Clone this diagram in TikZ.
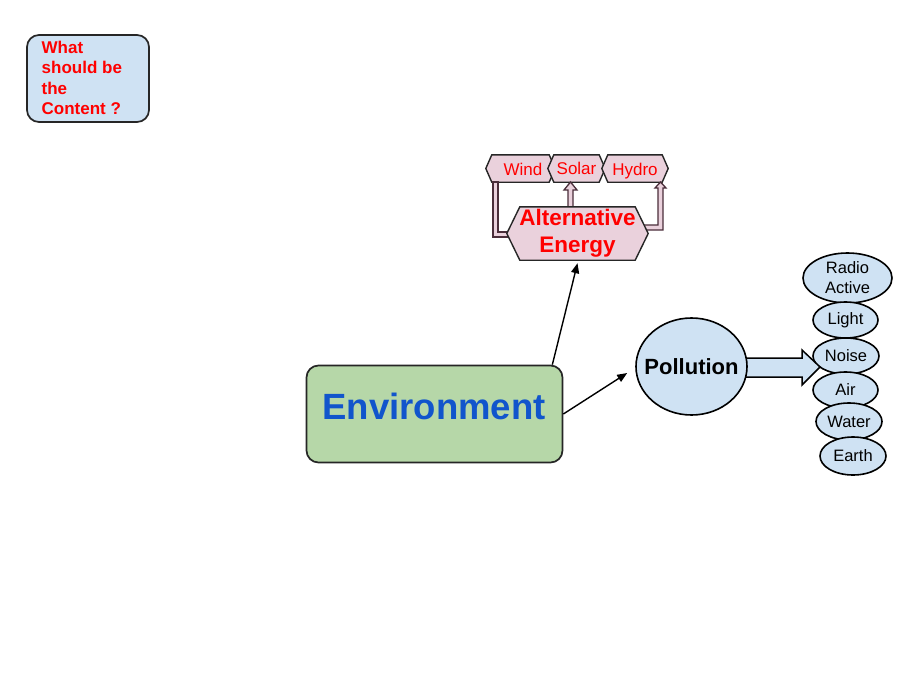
\documentclass[tikz,border=0pt]{standalone}
\usepackage{fontspec}
\setmainfont{Liberation Sans}
\usetikzlibrary{arrows.meta,calc,shapes.geometric}
\definecolor{lblue}{HTML}{CFE2F3}
\definecolor{lgreen}{HTML}{B6D7A8}
\definecolor{lpink}{HTML}{EAD1DC}
\definecolor{envblue}{HTML}{1155CC}
\definecolor{outl}{HTML}{262626}
\definecolor{pinkline}{HTML}{4A2E3A}
\definecolor{txtred}{HTML}{FF0000}
\newcommand\hexshape[3]{%
  \draw[#3] (#1.north west) -- (#1.north east) -- ([xshift=#2]#1.east) --
    (#1.south east) -- (#1.south west) -- ([xshift=-#2]#1.west) -- cycle;}
\begin{document}
\begin{tikzpicture}[x=1pt,y=-1pt,
  rbox/.style={draw=outl, line width=1.7pt, rounded corners=12pt, inner sep=0pt},
  body/.style={inner sep=0pt, draw=none},
  hexstyle/.style={draw=outl, fill=lpink, line width=1.4pt},
  cat/.style={ellipse, draw=black, line width=1.6pt, fill=lblue, inner sep=0pt},
  cattext/.style={align=center, inner sep=0pt, font=\fontsize{16.5}{20}\selectfont},
  toptext/.style={inner sep=0pt, text=txtred, font=\fontsize{17}{20}\selectfont},
  arr/.style={-{Triangle[length=10pt,width=8pt]}, line width=1.4pt},
  blockarrow/.style={draw=pinkline, fill=lpink, line width=1.3pt},
  bluearrow/.style={draw=black, fill=lblue, line width=1.5pt}]
\useasboundingbox[fill=white] (0,0) rectangle (900,680);

% question box
\node[rbox, fill=lblue, minimum width=122pt, minimum height=87pt] (what) at (88,78.5) {};
\node[anchor=west, align=left, inner sep=0pt, text=txtred,
  font=\bfseries\fontsize{17}{20.5}\selectfont] (whattxt) at (41.5,78) {What\\should be\\the\\Content ?};

% environment
\node[rbox, fill=lgreen, minimum width=256pt, minimum height=97pt] (env) at (434.5,414) {};
\node[inner sep=0pt, text=envblue, font=\bfseries\fontsize{36.5}{40}\selectfont] (envtxt) at (434,406) {Environment};

% top shapes
\node[body, minimum width=57pt, minimum height=27pt] (wind) at (520.5,168.5) {};
\node[body, minimum width=45pt, minimum height=27pt] (solar) at (576.5,168.5) {};
\node[body, minimum width=54pt, minimum height=27pt] (hydro) at (635,168.5) {};
\hexshape{wind}{6pt}{hexstyle}
\hexshape{solar}{6pt}{hexstyle}
\hexshape{hydro}{6pt}{hexstyle}
\node[toptext] at ([xshift=2.5pt,yshift=-1pt]wind.center) {Wind};
\node[toptext] at (solar.center) {Solar};
\node[toptext] at ([yshift=-3pt]hydro.center) {Hydro};

% block arrows to the sources
\draw[blockarrow] (568,212) -- (568,190) -- (564,190) -- (570.5,182) -- (577,190) -- (573,190) -- (573,212) -- cycle;
\draw[blockarrow] (515,232) -- (498,232) -- (498,182) -- (493,182) -- (493,237) -- (515,237) -- cycle;
\draw[blockarrow] (640,225) -- (658,225) -- (658,188) -- (655,188) -- (660.5,182) -- (666,188) -- (663,188) -- (663,230) -- (640,230) -- cycle;

% alternative energy
\node[body, minimum width=115pt, minimum height=53pt] (alt) at (577.5,233.5) {};
\hexshape{alt}{13pt}{hexstyle}
\node[align=center, inner sep=0pt, text=txtred,
  font=\bfseries\fontsize{22.5}{27}\selectfont] (alttxt) at (alt.center) {Alternative\\Energy};

% categories
\node[cat, minimum width=89pt, minimum height=50pt] (radio) at (847.5,278) {};
\node[cattext] at (radio) {Radio\\Active};
\node[cat, minimum width=65pt, minimum height=36pt] (light) at (845.5,320) {};
\node[cattext] at (light) {Light};
\node[cat, minimum width=66pt, minimum height=36pt] (noise) at (846,356) {};
\node[cattext] at (noise) {Noise};
\node[cat, minimum width=65pt, minimum height=36pt] (air) at (845.5,390) {};
\node[cattext] at (air) {Air};
\node[cat, minimum width=66pt, minimum height=37pt] (water) at (849,421.5) {};
\node[cattext] at (water) {Water};
\node[cat, minimum width=66pt, minimum height=38pt] (earth) at (853,456) {};
\node[cattext] at (earth) {Earth};

% pollution block arrow
\draw[bluearrow] (740,358) -- (802,358) -- (802,350) -- (820,367) -- (802,385) -- (802,377) -- (740,377) -- cycle;

% pollution
\node[ellipse, draw=black, line width=1.6pt, fill=lblue, minimum width=111pt, minimum height=97pt, inner sep=0pt] (pol) at (691.5,366.5) {};
\node[inner sep=0pt, font=\bfseries\fontsize{22}{26}\selectfont] (poltxt) at (pol.center) {Pollution};

% connectors
\draw[arr] ([xshift=-11pt]env.north east) -- ([yshift=-3pt]alt.south);
\draw[arr] (env.east) -- ([xshift=-8pt,yshift=-6.5pt]pol.west);
\end{tikzpicture}
\end{document}
